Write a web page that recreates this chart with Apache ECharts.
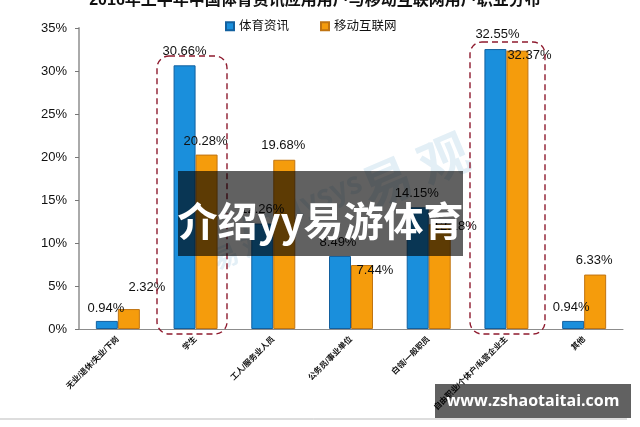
<!DOCTYPE html>
<html>
<head>
<meta charset="utf-8">
<style>
html, body { margin: 0; padding: 0; background: #fff; }
#main { width: 640px; height: 427px; }
</style>
<script src="https://cdn.jsdelivr.net/npm/echarts@6/dist/echarts.min.js"></script>
</head>
<body>
<div id="main"></div>
<script>
var categories = ['无业/退休/失业/下岗', '学生', '工人/服务业人员', '公务员/事业单位', '白领/一般职员', '自由职业/个体户/私营企业主', '其他'];
var sportsValues = [0.94, 30.66, 12.26, 8.49, 14.15, 32.55, 0.94];
var mobileValues = [2.32, 20.28, 19.68, 7.44, 12.18, 32.37, 6.33];
var yTicks = { min: 0, max: 35, interval: 5 };

// hand-placed labels, the original chart moved them around by hand too
var sportsOffsets = [[-1, -1], [0, -2], [0, -3], [-2, -2], [-1, -2], [2, -3], [-2, -2]];
var mobileOffsets = [[18, -10], [-1, -2], [-1, -3], [13, 17], [15, 14], [12, 16], [-1, -3]];

var latinFont = '"Liberation Sans", "Noto Sans CJK SC", sans-serif';

var withLabels = function(values, offsets) {
    return values.map(function(val, idx) {
        return { value: val, label: { offset: offsets[idx] } };
    });
};

var makeSerie = function(name, color, border, values, offsets) {
    return {
        name: name,
        type: 'bar',
        barWidth: 22,
        barGap: 0,
        itemStyle: { color: color, borderColor: border, borderWidth: 1 },
        label: {
            show: true,
            position: 'top',
            distance: 5,
            formatter: function(p) { return p.value.toFixed(2) + '%'; },
            color: '#111',
            fontFamily: latinFont,
            fontSize: 13
        },
        data: withLabels(values, offsets)
    };
};

var dashedBox = function(x, y, width, height) {
    return {
        type: 'rect',
        z: 20,
        shape: { x: x, y: y, width: width, height: height, r: 12 },
        style: { fill: 'none', stroke: '#8e1a2e', lineWidth: 1.4, lineDash: [6, 4] }
    };
};

var watermark = function(text, x, y, size) {
    return {
        type: 'text',
        z: 0,
        x: x,
        y: y,
        rotation: 0.4,
        style: {
            text: text,
            fill: '#e3eff6',
            font: 'bold ' + size + 'px "Noto Sans CJK SC", sans-serif',
            align: 'center',
            verticalAlign: 'middle'
        }
    };
};

var option = {
    animation: false,
    backgroundColor: '#fff',
    title: {
        text: '2016年上半年中国体育资讯应用用户与移动互联网用户职业分布',
        left: 310,
        top: -12,
        textAlign: 'center',
        textStyle: { color: '#111', fontSize: 16, fontWeight: 'bold', fontFamily: latinFont }
    },
    legend: {
        left: 220,
        top: 15,
        icon: 'rect',
        itemWidth: 8,
        itemHeight: 8,
        itemGap: 31,
        textStyle: { color: '#111', fontSize: 12.5, fontFamily: latinFont }
    },
    grid: { left: 79, right: 17, top: 28, bottom: 98 },
    xAxis: {
        type: 'category',
        data: categories,
        axisLine: { lineStyle: { color: '#8c8c8c', width: 1 } },
        axisTick: { length: 3, lineStyle: { color: '#666' } },
        axisLabel: {
            rotate: 45,
            interval: 0,
            margin: 9,
            color: '#111',
            fontSize: 8,
            fontWeight: 'bold',
            fontFamily: latinFont
        }
    },
    yAxis: {
        type: 'value',
        min: yTicks.min,
        max: yTicks.max,
        interval: yTicks.interval,
        splitLine: { show: false },
        axisLine: { show: true, lineStyle: { color: '#aaa', width: 2 } },
        axisTick: { show: true, length: 4, lineStyle: { color: '#777' } },
        axisLabel: {
            formatter: '{value}%',
            margin: 12,
            color: '#111',
            fontSize: 13,
            fontFamily: latinFont
        }
    },
    series: [
        makeSerie('体育资讯', '#1a8fdc', '#12609f', sportsValues, sportsOffsets),
        makeSerie('移动互联网', '#f59c0c', '#c07412', mobileValues, mobileOffsets)
    ],
    graphic: [
        watermark('易 观', 415, 170, 50),
        watermark('Analysys', 300, 205, 30),
        watermark('易 观', 240, 250, 26),
        dashedBox(157, 56, 70, 278),
        dashedBox(470, 42, 75, 292),
        {
            type: 'line',
            z: 20,
            shape: { x1: 0, y1: 419, x2: 627, y2: 419 },
            style: { stroke: '#bbb', lineWidth: 1 }
        },
        {
            type: 'rect',
            z: 100,
            shape: { x: 178, y: 171, width: 285, height: 85 },
            style: { fill: 'rgba(0,0,0,0.62)' }
        },
        {
            type: 'text',
            z: 101,
            x: 320.5,
            y: 221,
            style: {
                text: '介绍yy易游体育',
                fill: '#fff',
                font: 'bold 40px "Noto Sans CJK SC", sans-serif',
                align: 'center',
                verticalAlign: 'middle'
            }
        },
        {
            type: 'rect',
            z: 100,
            shape: { x: 435, y: 384, width: 196, height: 34 },
            style: { fill: 'rgba(0,0,0,0.62)' }
        },
        {
            type: 'text',
            z: 101,
            x: 533,
            y: 401,
            style: {
                text: 'www.zshaotaitai.com',
                fill: '#fff',
                font: 'bold 16px "Open Sans", sans-serif',
                align: 'center',
                verticalAlign: 'middle'
            }
        }
    ]
};

var mychart = echarts.init(document.getElementById('main'));
mychart.setOption(option);
</script>
</body>
</html>
